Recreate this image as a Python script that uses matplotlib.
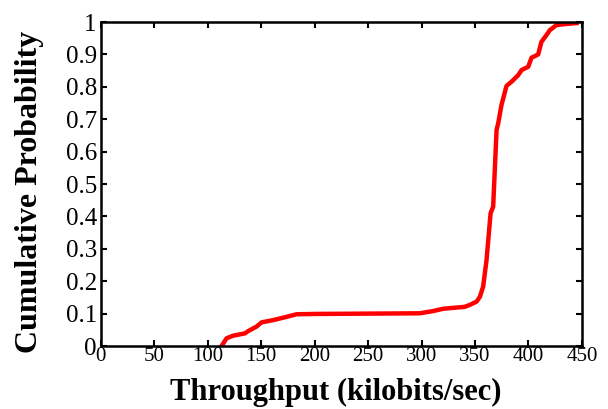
import numpy as np
import matplotlib
matplotlib.use("Agg")
import matplotlib.pyplot as plt

# throughput (kilobits/sec) and cumulative probability
throughput = [112.9, 117.6, 123.8, 134.7, 137.8, 145.6, 150.3, 161.2, 173.7, 183.0,
              200.0, 250.0, 298.4, 310.9, 320.2, 340.5, 345.2, 351.5, 354.6, 357.6,
              360.8, 364.6, 367.0, 370.2, 371.7, 374.8, 379.5, 384.2, 390.4, 393.6,
              399.8, 402.9, 409.1, 412.2, 416.9, 420.0, 426.3, 435.0, 445.0]
cdf = [0.0, 0.024, 0.032, 0.039, 0.046, 0.060, 0.073, 0.080, 0.090, 0.098,
       0.099, 0.100, 0.101, 0.108, 0.115, 0.121, 0.127, 0.137, 0.152, 0.183,
       0.265, 0.410, 0.430, 0.667, 0.687, 0.744, 0.803, 0.816, 0.836, 0.852,
       0.862, 0.890, 0.900, 0.939, 0.960, 0.975, 0.991, 0.994, 0.997]

xticks = [0, 50, 100, 150, 200, 250, 300, 350, 400, 450]
yticks = [0, 0.1, 0.2, 0.3, 0.4, 0.5, 0.6, 0.7, 0.8, 0.9, 1]
ytick_labels = ["0", "0.1", "0.2", "0.3", "0.4", "0.5", "0.6", "0.7", "0.8", "0.9", "1"]

plt.rcParams['font.family'] = ['Liberation Serif', 'DejaVu Serif']

fig = plt.figure(figsize=(6.08, 4.09), dpi=100)
ax = fig.add_axes([0.166, 0.154, 0.791, 0.792])

ax.plot(throughput, cdf, color='red', lw=3.2, solid_joinstyle='round')

ax.set_xlim(0, 450)
ax.set_ylim(0, 1)
ax.set_xticks(xticks)
ax.set_xticklabels([str(t) for t in xticks])
ax.set_yticks(yticks)
ax.set_yticklabels(ytick_labels)

ax.tick_params(direction='in', length=4, width=1.5, top=True, right=True)
ax.tick_params(axis='x', labelsize=15, pad=1)
ax.tick_params(axis='y', labelsize=18, pad=3)
for s in ax.spines.values():
    s.set_linewidth(1.8)

ax.set_xlabel("Throughput (kilobits/sec)", fontsize=22, fontweight='bold')
ax.set_ylabel("Cumulative Probability", fontsize=23, fontweight='bold')
ax.xaxis.set_label_coords(0.4875, -0.097)
ax.yaxis.set_label_coords(-0.118, 0.475)

fig.savefig("out.png", dpi=100)
